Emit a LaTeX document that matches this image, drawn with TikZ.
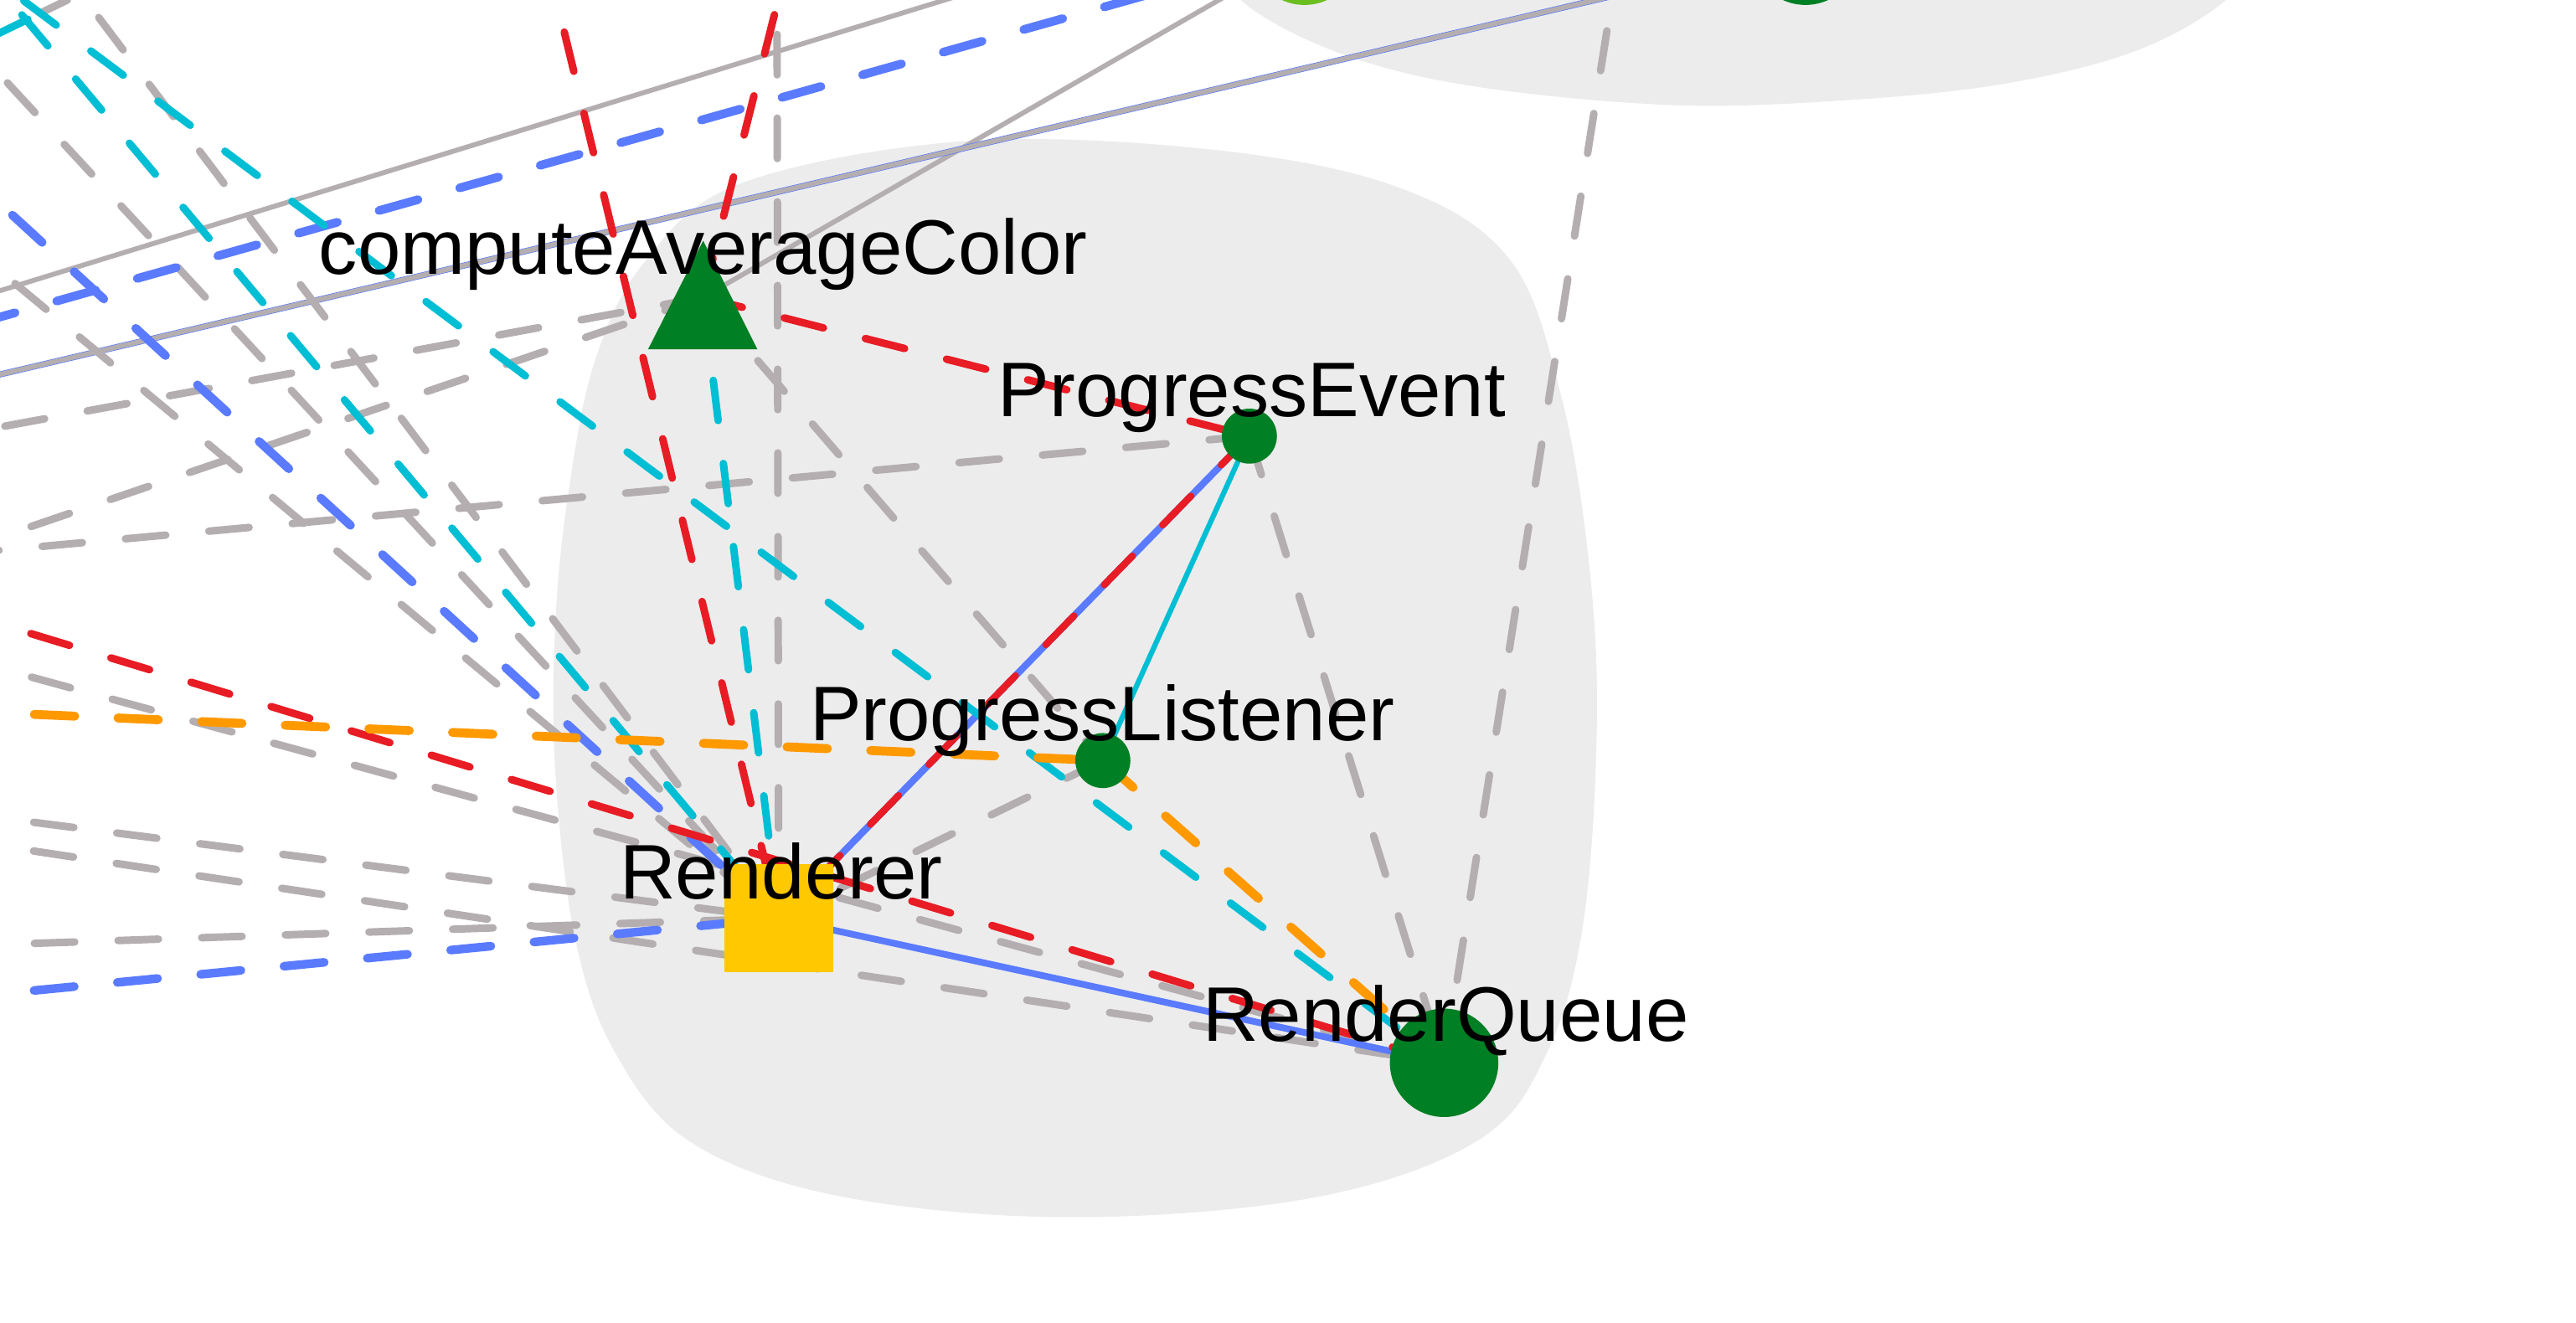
\documentclass[tikz,border=0pt]{standalone}
\usepackage{fontspec}
\setmainfont{Liberation Sans}
\definecolor{clfill}{HTML}{ECECEC}
\definecolor{eg}{HTML}{B4AEB0}
\definecolor{er}{HTML}{E81C24}
\definecolor{eb}{HTML}{5A7BFF}
\definecolor{ec}{HTML}{00BED4}
\definecolor{eo}{HTML}{FF9900}
\definecolor{ng}{HTML}{007F24}
\definecolor{nlg}{HTML}{6ABE1E}
\definecolor{ny}{HTML}{FFC800}
\begin{document}
\begin{tikzpicture}[x=0.02cm,y=-0.02cm,
  dsh/.style={line cap=round, dash pattern=on 14pt off 15pt},
  gd/.style={dsh, draw=eg, line width=2.6pt},
  rd/.style={dsh, draw=er, line width=2.6pt},
  cd/.style={dsh, draw=ec, line width=2.6pt},
  bd/.style={dsh, draw=eb, line width=3pt},
  od/.style={dsh, draw=eo, line width=3.1pt},
  gs/.style={draw=eg, line width=1.7pt},
  lbl/.style={anchor=base, inner sep=0, font=\fontsize{26.8pt}{32pt}\selectfont},
  smalldot/.style={circle, fill=ng, inner sep=0, minimum size=0.67cm},
  bigdot/.style={circle, inner sep=0, minimum size=1.32cm},
]
\useasboundingbox (0,0) rectangle (1568,805);
\clip (0,0) rectangle (1568,805);

% clusters
\fill[clfill] plot[smooth cycle, tension=0.6] coordinates {
 (586,86) (737,91) (851,114) (919,158) (950,240) (967,341) (972,440)
 (964,560) (942,640) (900,694) (800,729) (650,741) (510,728) (420,695)
 (374,640) (350,571) (338,470) (338,380) (346,300) (362,220) (392,160)
 (450,112)};
\fill[clfill] plot[smooth, tension=0.6] coordinates {
 (735,-30) (760,4) (820,34) (900,53) (1019,64) (1124,61) (1220,51)
 (1300,31) (1355,0) (1372,-30)} -- cycle;

% node positions
\coordinate (cac) at (428,181);
\coordinate (pe) at (760.5,265.5);
\coordinate (pl) at (671.3,463);
\coordinate (rr) at (474,559);
\coordinate (rq) at (879,647);
\coordinate (lg) at (794,-30);
\coordinate (dg) at (1099,-30);
% off-canvas ends
\coordinate (o1a) at (-30,186.2);
\coordinate (o1b) at (640,-20);
\coordinate (o2) at (-30,201.4);
\coordinate (o3) at (-30,235);
\coordinate (oa) at (-30,140);
\coordinate (ob) at (-30,96.5);
\coordinate (oc) at (-30,13);
\coordinate (od) at (-19.4,-30);
\coordinate (oe) at (29.4,-30);
\coordinate (ocq) at (-26.3,-30);
\coordinate (or1) at (331.5,-30);
\coordinate (ov) at (472.9,-30);
\coordinate (or2) at (481.2,-30);
\coordinate (ot1) at (-30,265.5);
\coordinate (ot2) at (-30,337.2);
\coordinate (ope) at (-30,337.7);
\coordinate (oo) at (-30,432.7);
\coordinate (orq1) at (-30,370.9);
\coordinate (orq2) at (-30,398.8);
\coordinate (orq3) at (-30,510.5);
\coordinate (orr1) at (-30,494.1);
\coordinate (orr2) at (-30,576);
\coordinate (orr3) at (-30,607.9);
\coordinate (orqt) at (985.8,-30);
\coordinate (tf1) at (-30,34.6);
\coordinate (tfm1) at (17,11.7);
\coordinate (tfm2) at (26,7.3);
\coordinate (tf2) at (41,0);

% gray edges
\draw[gs] (o1a) -- (o1b);
\draw[gs] (cac) -- (lg);
\draw[draw=eb, line width=2.1pt] (o3) -- (dg);
\draw[gs] (o3) -- (dg);
\draw[gd] (oa) -- (rr);
\draw[gd] (oc) -- (rr);
\draw[gd] (oe) -- (rr);
\draw[gd] (ov) -- (rr);
\draw[gd] (cac) -- (ot1);
\draw[gd] (cac) -- (ot2);
\draw[gd] (cac) -- (pl);
\draw[gd] (pe) -- (ope);
\draw[gd] (pe) -- (rq);
\draw[gd] (pl) -- (rr);
\draw[gd] (orq2) -- (rq);
\draw[gd] (orq3) -- (rq);
\draw[gd] (orr1) -- (rr);
\draw[gd] (orr2) -- (rr);
\draw[gd] (rq) -- (orqt);
\draw[line cap=round, draw=eg, line width=2.6pt] (tfm2) -- (tf2);
% blue edges
\draw[bd] (lg) -- (o2);
\draw[bd] (ob) -- (rr);
\draw[bd] (orr3) -- (rr);
\draw[draw=eb, line width=2.3pt] (rr) -- (rq);
\draw[draw=eb, line width=2.4pt] (pe) -- (rr);
% cyan edges
\draw[cd] (od) -- (rr);
\draw[cd] (ocq) -- (rq);
\draw[cd] (cac) -- (rr);
\draw[draw=ec, line width=1.8pt] (pe) -- (pl);
\draw[line cap=round, draw=ec, line width=2.6pt] (tf1) -- (tfm1);
% red edges
\draw[rd] (or1) -- (rr);
\draw[rd] (cac) -- (or2);
\draw[rd] (cac) -- (pe);
\draw[rd, line width=2.4pt] (pe) -- (rr);
\draw[rd] (orq1) -- (rq);
% orange edges
\draw[od] (oo) -- (pl);
\draw[od] (pl) -- (rq);

% nodes
\node[bigdot, fill=nlg] (lgN) at (lg) {};
\node[bigdot, fill=ng] (dgN) at (dg) {};
\fill[ng] (428,146.5) -- (461,212.6) -- (394.5,212.6) -- cycle;
\node[smalldot] (peN) at (pe) {};
\node[smalldot] (plN) at (pl) {};
\node[rectangle, fill=ny, inner sep=0, minimum size=1.32cm] (rrN) at (rr) {};
\node[bigdot, fill=ng] (rqN) at (rq) {};

% labels
\node[lbl] (cacL) at (428,167) {computeAverageColor};
\node[lbl] (peL) at (762,253.5) {ProgressEvent};
\node[lbl] (plL) at (671,451) {ProgressListener};
\node[lbl] (rrL) at (475.5,547) {Renderer};
\node[lbl] (rqL) at (880,634) {RenderQueue};
\end{tikzpicture}
\end{document}
